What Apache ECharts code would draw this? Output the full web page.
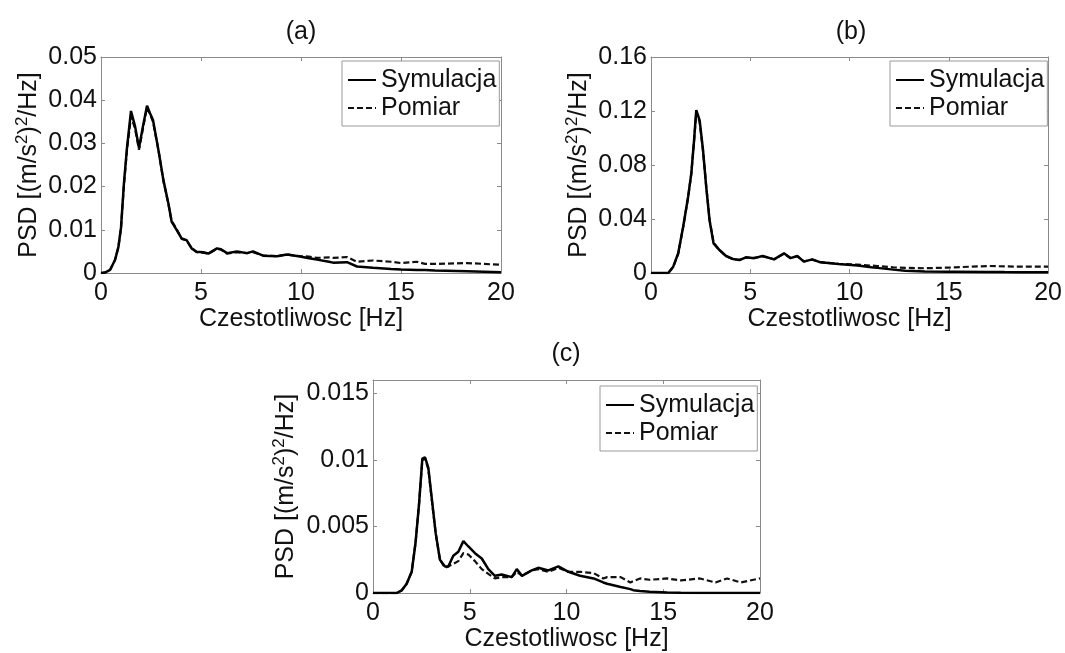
<!DOCTYPE html>
<html>
<head>
<meta charset="utf-8">
<script src="https://cdn.jsdelivr.net/npm/echarts@6/dist/echarts.min.js"></script>
<style>html,body{margin:0;padding:0;background:#fff;}#c{width:1065px;height:653px;}</style>
</head>
<body>
<div id="c"></div>
<script>
// ---- data ----
const seriesNames = ['Symulacja', 'Pomiar'];
const panelTitles = ['(a)', '(b)', '(c)'];
const xLabel = 'Czestotliwosc [Hz]';
const yLabel = 'PSD [(m/s{s|2}){s|2}/Hz]';
const xTicks = [0, 5, 10, 15, 20];
const yTicksA = [0, 0.01, 0.02, 0.03, 0.04, 0.05];
const yTicksB = [0, 0.04, 0.08, 0.12, 0.16];
const yTicksC = [0, 0.005, 0.01, 0.015];

const fA = [0,0.2,0.45,0.7,0.87,1.0,1.15,1.3,1.5,1.7, 1.9,2.1,2.3,2.45,2.6,2.87,3.12,3.37,3.53,3.78, 4.03,4.28,4.53,4.78,5.1,5.37,5.8,6.0,6.3,6.8, 7.3,7.6,8.1,8.8,9.3,9.95,10.4,10.8,11.4,11.6, 12.3,12.8,13.6,14.5,15,15.8,16.2,16.7,18.3,20];
const simA = [0,0.0001,0.0007,0.003,0.006,0.0105,0.021,0.029,0.0375,0.034, 0.029,0.034,0.0387,0.037,0.0354,0.0285,0.0215,0.0161,0.0119,0.010, 0.008,0.0076,0.0057,0.0049,0.0048,0.0045,0.0057,0.0055,0.0046,0.0050, 0.0046,0.0050,0.0040,0.0039,0.0043,0.0038,0.0034,0.0031,0.0026,0.0024, 0.0025,0.0015,0.0012,0.0009,0.0008,0.0007,0.0007,0.0006,0.0004,0.0002];
const pomA = [0,0.0001,0.0007,0.003,0.006,0.0104,0.0205,0.0285,0.0362,0.0335, 0.0285,0.0335,0.0383,0.0368,0.035,0.0285,0.0213,0.016,0.0121,0.0102, 0.0079,0.0075,0.0058,0.0048,0.0047,0.0045,0.0056,0.0054,0.0045,0.0048, 0.0046,0.0048,0.0041,0.0039,0.0043,0.0039,0.0038,0.0035,0.0036,0.0035, 0.0037,0.0026,0.0029,0.0026,0.0023,0.0026,0.0021,0.0021,0.0023,0.0019];

const fB = [0,0.87,1.12,1.37,1.62,1.87,2.03,2.17,2.28,2.45, 2.62,2.78,2.95,3.15,3.45,3.78,4.12,4.45,4.78,5.2, 5.62,6.2,6.7,7.03,7.37,7.7,8.12,8.53,9.45,10.4, 11.1,11.4,12.2,12.8,13.8,15,15.3,17,17.8,18.7, 20];
const simB = [0,0,0.0047,0.0146,0.0343,0.0565,0.0738,0.0985,0.1207,0.113, 0.091,0.064,0.039,0.022,0.017,0.0126,0.0104,0.0096,0.0116,0.011, 0.0126,0.0101,0.0146,0.011,0.0126,0.0084,0.0101,0.0079,0.0067,0.0055, 0.0042,0.0038,0.0025,0.0017,0.0012,0.001,0.001,0.0008,0.0007,0.0006, 0.0005];
const pomB = [0,0,0.0045,0.0142,0.034,0.056,0.0735,0.098,0.119,0.112, 0.0905,0.0645,0.0395,0.0225,0.0168,0.0125,0.0102,0.0097,0.0114,0.0112, 0.0124,0.0102,0.0143,0.0111,0.0124,0.0086,0.0099,0.0081,0.0067,0.0062, 0.0055,0.0052,0.0042,0.0038,0.0035,0.004,0.0042,0.0052,0.0049,0.0047, 0.0047];

const fC = [0,1.22,1.48,1.74,2.0,2.2,2.38,2.55,2.69,2.86, 3.03,3.24,3.46,3.72,3.89,4.15,4.41,4.67,4.93,5.27, 5.62,5.96,6.3,6.65,7.17,7.43,7.7,8.2,8.54,9.06, 9.58,10.1,10.7,11.4,11.9,12.1,12.8,13.3,13.45,13.8, 14.3,15.2,15.9,16.9,17.7,18.3,19,20];
const simC = [0,0,0.0002,0.0007,0.0016,0.0038,0.0067,0.0101,0.0102,0.0094, 0.0072,0.0045,0.0025,0.002,0.002,0.0028,0.0031,0.0039,0.0035,0.003, 0.0026,0.0018,0.0013,0.0014,0.0012,0.0018,0.0013,0.0017,0.0019,0.0017, 0.002,0.0016,0.0013,0.0011,0.0008,0.0007,0.00046,0.0003,0.00022,0.00015, 0.0001,0.00005,0.00003,0.00001,0,0,0,0];
const pomC = [0,0,0.0002,0.0007,0.0016,0.0038,0.0067,0.0100,0.0101,0.0093, 0.0071,0.0045,0.0025,0.0019,0.002,0.0022,0.0024,0.003,0.0029,0.0024, 0.0018,0.00144,0.0011,0.0012,0.0012,0.0016,0.0013,0.0017,0.0018,0.0016, 0.0019,0.0016,0.0016,0.0015,0.0011,0.0012,0.0012,0.0008,0.0009,0.0011, 0.0010,0.0011,0.00095,0.0011,0.0008,0.0011,0.0008,0.0011];

// ---- layout / style ----
const FONT = "'Liberation Sans', Arial, sans-serif";
const AX = '#8a8a8a';
const TXT = '#111';
const panels = [
  {grid:{left:101, top:57, width:400, height:216}, f:fA, sim:simA, pom:pomA, yTicks:yTicksA, ymax:0.05, nameGap:56, legend:{left:342, top:61}, title:[301,32]},
  {grid:{left:651, top:57, width:400, height:216}, f:fB, sim:simB, pom:pomB, yTicks:yTicksB, ymax:0.16, nameGap:56, legend:{left:890, top:61}, title:[851,32]},
  {grid:{left:373, top:380, width:387, height:218}, f:fC, sim:simC, pom:pomC, yTicks:yTicksC, ymax:0.016, nameGap:71, legend:{left:600, top:386}, title:[566,354]}
];

function pairs(f, v) { return f.map((x, i) => [x, v[i]]); }

const grid = [], xAxis = [], yAxis = [], series = [], legend = [], graphic = [];
panels.forEach((p, i) => {
  grid.push(Object.assign({containLabel:false}, p.grid));
  const yInt = p.yTicks[1] - p.yTicks[0];
  const xInt = xTicks[1] - xTicks[0];
  const tick = {show:true, inside:true, length:4, lineStyle:{color:AX, width:1}};
  const line = {show:true, onZero:false, lineStyle:{color:AX, width:1}};
  xAxis.push({
    gridIndex:i, type:'value', position:'bottom', min:xTicks[0], max:xTicks[xTicks.length-1], interval:xInt,
    axisLine:line, axisTick:tick, splitLine:{show:false},
    axisLabel:{color:TXT, fontSize:25, fontFamily:FONT, margin:8},
    name:xLabel, nameLocation:'middle', nameGap:30,
    nameTextStyle:{color:TXT, fontSize:25, fontFamily:FONT}
  });
  xAxis.push({
    gridIndex:i, type:'value', position:'top', min:xTicks[0], max:xTicks[xTicks.length-1], interval:xInt,
    axisLine:line, axisTick:tick, splitLine:{show:false}, axisLabel:{show:false}
  });
  yAxis.push({
    gridIndex:i, type:'value', position:'left', min:0, max:p.ymax, interval:yInt,
    axisLine:line, axisTick:tick, splitLine:{show:false},
    axisLabel:{color:TXT, fontSize:25, fontFamily:FONT, margin:4, showMaxLabel: p.ymax === p.yTicks[p.yTicks.length-1]},
    name:yLabel, nameLocation:'middle', nameGap:p.nameGap, nameRotate:90,
    nameTextStyle:{color:TXT, fontSize:25, lineHeight:31, fontFamily:FONT,
      rich:{s:{fontSize:17, lineHeight:17, fontFamily:FONT, color:TXT, verticalAlign:'top'}}}
  });
  yAxis.push({
    gridIndex:i, type:'value', position:'right', min:0, max:p.ymax, interval:yInt,
    axisLine:line, axisTick:tick, splitLine:{show:false}, axisLabel:{show:false}
  });
  series.push({
    name:seriesNames[1], type:'line', xAxisIndex:2*i, yAxisIndex:2*i, data:pairs(p.f, p.pom),
    symbol:'none', showSymbol:false, lineStyle:{color:'#111', width:2.2, type:[6,3]}, itemStyle:{color:'#111'}, z:2
  });
  series.push({
    name:seriesNames[0], type:'line', xAxisIndex:2*i, yAxisIndex:2*i, data:pairs(p.f, p.sim),
    symbol:'none', showSymbol:false, lineStyle:{color:'#000', width:2.5, type:'solid'}, itemStyle:{color:'#000'}, z:3
  });
  legend.push({
    left:p.legend.left, top:p.legend.top, orient:'vertical', data:seriesNames,
    icon:'inherit', itemStyle:{color:'rgba(0,0,0,0)', borderWidth:0, opacity:0},
    itemWidth:28, itemHeight:14, itemGap:0, selectedMode:false,
    textStyle:{color:TXT, fontSize:25, lineHeight:28, fontFamily:FONT},
    borderColor:'#999', borderWidth:1, padding:[5,3,4,5], backgroundColor:'#fff'
  });
  graphic.push({
    type:'text', x:p.title[0], y:p.title[1],
    style:{text:panelTitles[i], fontSize:25, fontFamily:FONT, fill:TXT, align:'center', verticalAlign:'middle'}
  });
});

const chart = echarts.init(document.getElementById('c'), null, {renderer:'canvas'});
chart.setOption({
  animation:false, backgroundColor:'#fff',
  grid, xAxis, yAxis, series, legend, graphic
});
</script>
</body>
</html>
